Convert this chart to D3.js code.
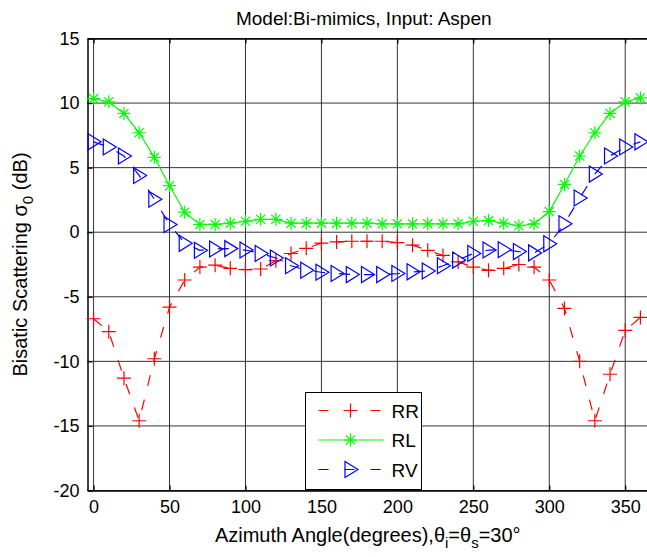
<!DOCTYPE html>
<html>
<head>
<meta charset="utf-8">
<script src="https://cdn.jsdelivr.net/npm/d3@7"></script>
<style>
  body { margin: 0; background: #fff; }
  svg { font-family: "Liberation Sans", Arial, sans-serif; }
</style>
</head>
<body>
<div id="chart"></div>
<script>
const angles = d3.range(0, 361, 10);

const rr = [-6.7, -7.7, -11.3, -14.6, -9.8, -5.8, -3.7, -2.7, -2.55, -2.8,
    -2.9, -2.85, -2.2, -1.65, -1.25, -0.85, -0.75, -0.7, -0.7, -0.7,
    -0.8, -1.0, -1.4, -1.8, -2.3, -2.7, -2.95, -2.8, -2.5, -2.7,
    -3.7, -5.9, -10.0, -14.6, -11.0, -7.6, -6.6];

const rl = [10.35, 10.1, 9.2, 7.7, 5.8, 3.6, 1.55, 0.6, 0.6, 0.7,
    0.85, 1.0, 1.0, 0.7, 0.7, 0.7, 0.7, 0.7, 0.7, 0.65,
    0.65, 0.65, 0.65, 0.65, 0.65, 0.85, 0.9, 0.7, 0.5, 0.65,
    1.6, 3.7, 5.9, 7.7, 9.2, 10.1, 10.4];

const rv = [7.0, 6.6, 5.9, 4.4, 2.55, 0.6, -0.86, -1.4, -1.3, -1.27,
    -1.38, -1.64, -2.0, -2.6, -2.94, -3.1, -3.2, -3.28, -3.28, -3.28,
    -3.2, -3.07, -3.0, -2.6, -2.16, -1.64, -1.38, -1.35, -1.5, -1.6,
    -0.9, 0.65, 2.65, 4.5, 5.9, 6.6, 7.0];

const xTicks = [0, 50, 100, 150, 200, 250, 300, 350];
const yTicks = [-20, -15, -10, -5, 0, 5, 10, 15];

const series = [
    { name: 'RR', values: rr, color: '#ff0000', dash: '11,14', marker: 'plus' },
    { name: 'RL', values: rl, color: '#00ff00', dash: null, marker: 'star' },
    { name: 'RV', values: rv, color: '#0000ff', dash: '11,14', marker: 'tri' }
];

const W = 647, H = 557;
const mLeft = 87.5, mTop = 38.5, mRight = 648, mBottom = 490.5;

const svg = d3.select('#chart').append('svg')
    .attr('width', W)
    .attr('height', H);

const x = d3.scaleLinear().domain([-4, 365]).range([mLeft, mRight]);
const y = d3.scaleLinear().domain([-20, 15]).range([mBottom, mTop]);

// grid
svg.append('g').selectAll('line').data(xTicks).join('line')
    .attr('x1', d => x(d)).attr('x2', d => x(d))
    .attr('y1', mTop).attr('y2', mBottom)
    .attr('stroke', '#333').attr('stroke-width', 1);
svg.append('g').selectAll('line').data(yTicks).join('line')
    .attr('x1', mLeft).attr('x2', mRight)
    .attr('y1', d => y(d)).attr('y2', d => y(d))
    .attr('stroke', '#333').attr('stroke-width', 1);

// axes (ticks inward), hyphen minus like matlab
const fmt = d => String(d);
const xAxis = svg.append('g')
    .attr('transform', `translate(0,${mBottom})`)
    .call(d3.axisBottom(x).tickValues(xTicks).tickFormat(fmt).tickSizeInner(-5).tickSizeOuter(0).tickPadding(10));
const xAxisTop = svg.append('g')
    .attr('transform', `translate(0,${mTop})`)
    .call(d3.axisTop(x).tickValues(xTicks).tickSizeInner(-5).tickSizeOuter(0).tickFormat(''));
const yAxis = svg.append('g')
    .attr('transform', `translate(${mLeft},0)`)
    .call(d3.axisLeft(y).tickValues(yTicks).tickFormat(fmt).tickSizeInner(-5).tickSizeOuter(0).tickPadding(8));

[xAxis, xAxisTop, yAxis].forEach(g => {
    g.select('.domain').attr('stroke', '#000').attr('stroke-width', 1.5);
    g.selectAll('.tick line').attr('stroke', '#000').attr('stroke-width', 1.2);
    g.selectAll('.tick text').attr('fill', '#000').style('font-size', '18px')
        .style('font-family', '"Liberation Sans", Arial, sans-serif');
});

// markers
function drawMarker(g, type, cx, cy, color) {
    if (type === 'plus') {
        g.append('path')
            .attr('d', `M${cx - 7},${cy}H${cx + 7}M${cx},${cy - 7}V${cy + 7}`)
            .attr('stroke', color).attr('stroke-width', 1.2).attr('fill', 'none');
    } else if (type === 'star') {
        const r = 6.5, q = 4.6;
        g.append('path')
            .attr('d', `M${cx - r},${cy}H${cx + r}M${cx},${cy - r}V${cy + r}` +
                `M${cx - q},${cy - q}L${cx + q},${cy + q}M${cx - q},${cy + q}L${cx + q},${cy - q}`)
            .attr('stroke', color).attr('stroke-width', 1.2).attr('fill', 'none');
    } else {
        g.append('path')
            .attr('d', `M${cx - 5.5},${cy - 8}L${cx + 7.5},${cy}L${cx - 5.5},${cy + 8}Z`)
            .attr('stroke', color).attr('stroke-width', 1.2).attr('fill', 'none');
    }
}

const line = d3.line().x(d => x(d[0])).y(d => y(d[1]));
const plot = svg.append('g');

series.forEach(s => {
    const pts = angles.map((a, i) => [a, s.values[i]]);
    plot.append('path')
        .attr('d', line(pts))
        .attr('fill', 'none')
        .attr('stroke', s.color)
        .attr('stroke-width', 1.2)
        .attr('stroke-dasharray', s.dash);
    const mg = plot.append('g');
    pts.forEach(p => drawMarker(mg, s.marker, x(p[0]), y(p[1]), s.color));
});

// title
svg.append('text')
    .attr('x', (mLeft + mRight) / 2 - 4)
    .attr('y', 25)
    .attr('text-anchor', 'middle')
    .style('font-size', '19px')
    .text('Model:Bi-mimics, Input: Aspen');

// x label
const xl = svg.append('text')
    .attr('x', (mLeft + mRight) / 2)
    .attr('y', 542)
    .attr('text-anchor', 'middle')
    .style('font-size', '20px');
xl.append('tspan').text('Azimuth Angle(degrees),θ');
xl.append('tspan').attr('dy', 6).style('font-size', '15px').text('i');
xl.append('tspan').attr('dy', -6).text('=θ');
xl.append('tspan').attr('dy', 6).style('font-size', '15px').text('s');
xl.append('tspan').attr('dy', -6).text('=30°');

// y label
const yl = svg.append('text')
    .attr('transform', `translate(27,${(mTop + mBottom) / 2}) rotate(-90)`)
    .attr('text-anchor', 'middle')
    .style('font-size', '20px');
yl.append('tspan').text('Bisatic Scattering σ');
yl.append('tspan').attr('dy', 6).style('font-size', '15px').text('0');
yl.append('tspan').attr('dy', -6).text(' (dB)');

// legend
const lg = svg.append('g').attr('transform', 'translate(305.5,392.5)');
lg.append('rect')
    .attr('width', 116).attr('height', 97)
    .attr('fill', '#fff').attr('stroke', '#000').attr('stroke-width', 1);
series.forEach((s, i) => {
    const ly = 18 + i * 29.5;
    lg.append('line')
        .attr('x1', 13).attr('x2', 78)
        .attr('y1', ly).attr('y2', ly)
        .attr('stroke', s.color).attr('stroke-width', 1.2)
        .attr('stroke-dasharray', s.dash ? '10,16' : null);
    drawMarker(lg, s.marker, 45, ly, s.color);
    lg.append('text')
        .attr('x', 86).attr('y', ly + 7)
        .style('font-size', '19px')
        .text(s.name);
});
</script>
</body>
</html>
